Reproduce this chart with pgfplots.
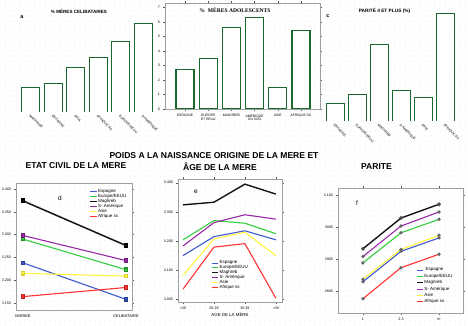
\documentclass[border=0pt]{standalone}
\usepackage{fontspec}
\setmainfont{Liberation Sans}
\newfontfamily\serifb{Liberation Serif}
\usepackage{pgfplots}
\pgfplotsset{compat=1.18}
\usetikzlibrary{patterns.meta}
\definecolor{cesp}{RGB}{60,90,205}
\definecolor{ceur}{RGB}{50,205,60}
\definecolor{cmag}{RGB}{20,20,20}
\definecolor{csam}{RGB}{150,40,165}
\definecolor{casi}{RGB}{255,245,60}
\definecolor{cafr}{RGB}{255,50,50}
\definecolor{bargreen}{RGB}{25,105,45}
\pgfplotsset{
  common/.style={scale only axis, anchor=south west,
    /pgf/number format/assume math mode=true,
    tick label style={font=\fontsize{3.6}{4}\selectfont},
    tick style={gray!70!black, line width=0.4bp},
    tick align=outside, major tick length=1.6bp},
  barax/.style={common, ybar, bar width=18bp, ymin=0,
    xtick={0,...,5}, ytick=\empty,
    axis line style={draw=none}, tick style={draw=none},
    xticklabel style={rotate=-45, anchor=north west, inner sep=0.6pt, font=\fontsize{3.4}{4}\selectfont}},
  greenbar/.style={fill=white, draw=bargreen, line width=0.9bp},
  lineax/.style={common, axis line style={gray!75, line width=0.9bp},
    legend cell align=left,
    legend image code/.code={\draw[##1, mark=none, line width=1bp] (0bp,0bp) -- (6.5bp,0bp);},
    legend style={draw=none, fill=none, font=\fontsize{4.5}{4.8}\selectfont,
      row sep=-1.4bp, nodes={inner sep=0.8bp}}},
}
\begin{document}
\begin{tikzpicture}
\path[use as bounding box] (0,0) rectangle (468bp,326bp);
\fill[pattern={Dots[distance=5bp, radius=0.3bp]}, pattern color=gray!50] (0,0) rectangle (468bp,326bp);

% ---------- a ----------
\begin{axis}[barax, at={(15bp,214bp)}, width=145bp, height=97bp,
  xmin=-0.71, xmax=5.76, ymax=97,
  xticklabels={MAGHREB, ESPAGNE, ASIA, AFRIQUE SS, EUROPE/EEUU, S-AMERIQUE}]
\addplot[greenbar] coordinates {(0,25) (1,29) (2,45) (3,55) (4,71) (5,89)};
\end{axis}
\node[font=\bfseries\fontsize{4.6}{5}\selectfont] at (79bp,315bp) {\% MÈRES CELIBATAIRES};
\node[font=\bfseries\fontsize{5.5}{6}\selectfont] at (22bp,309bp) {a};

% ---------- b ----------
\begin{axis}[common, at={(165bp,217bp)}, width=155bp, height=106bp,
  ybar, bar width=18bp,
  xmin=-0.86, xmax=5.82, ymin=0, ymax=7.3,
  axis line style={gray!75, line width=0.8bp},
  ytick={0,...,7}, xtick={0,...,5},
  xticklabel style={align=center, font=\fontsize{3.4}{3.8}\selectfont},
  xticklabels={ESPAGNE, {EUROPE\\ET EEUU}, MAGHREB, {AMÉRIQUE\\DU SUD}, ASIE, AFRIQUE SS}]
\addplot[greenbar, line width=1.1bp] coordinates {(0,2.7) (1,3.5) (2,5.6) (3,6.3) (4,1.45) (5,5.4)};
\end{axis}
\node[font=\serifb\bfseries\fontsize{5.6}{6}\selectfont] at (235bp,316bp) {\%\ \ MÈRES ADOLESCENTS};

% ---------- c ----------
\begin{axis}[barax, at={(322bp,205bp)}, width=140bp, height=116bp,
  xmin=-0.59, xmax=5.77, ymax=116,
  xticklabels={ESPAGNE, EUROPE/EEUU, MAGHREB, S-AMERIQUE, ASIE, AFRIQUE SS}]
\addplot[greenbar] coordinates {(0,18) (1,27) (2,77) (3,31) (4,24) (5,108)};
\end{axis}
\node[font=\bfseries\fontsize{4.8}{5}\selectfont] at (384.5bp,315bp) {PARITÉ 4 ET PLUS (\%)};
\node[font=\bfseries\fontsize{5.5}{6}\selectfont] at (328bp,310bp) {c};

% ---------- titles ----------
\node[font=\bfseries\fontsize{8.6}{9}\selectfont] at (214bp,170bp) {POIDS A LA NAISSANCE ORIGINE DE LA MERE ET};
\node[font=\bfseries\fontsize{8.6}{9}\selectfont] at (76bp,160bp) {ETAT CIVIL DE LA MERE};
\node[font=\bfseries\fontsize{8.6}{9}\selectfont] at (220bp,159.5bp) {ÂGE DE LA MERE};
\node[font=\bfseries\fontsize{8.6}{9}\selectfont] at (376.5bp,159.5bp) {PARITE};

% ---------- d ----------
\begin{axis}[lineax, at={(16bp,16bp)}, width=116bp, height=127bp,
  xmin=-0.068, xmax=1.058, ymin=3.1346, ymax=3.4132,
  xtick={0,1}, xticklabels={MARIEE, CELIBATAIRE},
  xticklabel style={font=\fontsize{4}{4.5}\selectfont},
  x tick style={draw=none},
  ytick={3.15,3.2,3.25,3.3,3.35,3.4},
  yticklabels={3.150,3.200,3.250,3.300,3.350,3.400},
  legend style={at={(0.61,0.975)}, anchor=north west},
  every axis plot/.append style={line width=1.1bp, mark=square*, mark size=1.7bp}]
\addplot[cesp, mark options={fill=cesp, draw=cesp!70!black}] coordinates {(0,3.238) (1,3.158)};
\addplot[ceur, mark options={fill=ceur, draw=ceur!70!black}] coordinates {(0,3.290) (1,3.223)};
\addplot[cmag, line width=1.5bp, mark options={fill=cmag, draw=black}] coordinates {(0,3.374) (1,3.276)};
\addplot[csam, mark options={fill=csam, draw=csam!70!black}] coordinates {(0,3.298) (1,3.243)};
\addplot[casi, mark options={fill=casi, draw=casi!85!black}] coordinates {(0,3.215) (1,3.209)};
\addplot[cafr, mark options={fill=cafr, draw=cafr!75!black}] coordinates {(0,3.164) (1,3.184)};
\legend{Espagne, Europe/EEUU, Maghreb, S- Amérique, Asie, Afrique ss}
\end{axis}
\node[font=\fontsize{6.5}{7}\selectfont] at (60bp,128bp) {d};

% ---------- e ----------
\begin{axis}[lineax, at={(178bp,24bp)}, width=104bp, height=123bp,
  xmin=-0.162, xmax=3.2, ymin=2.9907, ymax=3.4127,
  xtick={0,1,2,3}, xticklabels={<20, 20-29, 30-39, >39},
  ytick={3.0,3.1,3.2,3.3,3.4},
  yticklabels={3.000,3.100,3.200,3.300,3.400},
  xlabel={AGE DE LA MÈRE}, xlabel style={font=\fontsize{4.4}{5}\selectfont, yshift=3.5bp},
  legend style={at={(0.29,0.36)}, anchor=north west},
  every axis plot/.append style={line width=1.1bp, mark=none}]
\addplot[cesp] coordinates {(0,3.150) (1,3.215) (2,3.235) (3,3.204)};
\addplot[ceur] coordinates {(0,3.204) (1,3.270) (2,3.261) (3,3.225)};
\addplot[cmag, line width=1.4bp] coordinates {(0,3.324) (1,3.333) (2,3.395) (3,3.361)};
\addplot[csam] coordinates {(0,3.183) (1,3.263) (2,3.290) (3,3.275)};
\addplot[casi] coordinates {(0,3.082) (1,3.207) (2,3.230) (3,3.150)};
\addplot[cafr] coordinates {(0,3.035) (1,3.179) (2,3.191) (3,3.004)};
\legend{Espagne, Europe/EEUU, Maghreb, S- Amérique, Asie, Afrique ss}
\end{axis}
\node[font=\fontsize{6.5}{7}\selectfont] at (196bp,134bp) {e};

% ---------- f ----------
\begin{axis}[lineax, at={(338bp,13bp)}, width=125bp, height=125bp,
  xmin=-0.655, xmax=2.63, ymin=2731.5, ymax=3121.8,
  xtick={0,1,2}, xticklabels={1, 2-3, 4+},
  ytick={2800,2900,3000,3100},
  yticklabels={2800,2900,3000,3.100},
  legend style={at={(0.6,0.385)}, anchor=north west, row sep=0bp},
  every axis plot/.append style={line width=1.1bp, mark=*, mark size=1.1bp}]
\addplot[cesp, mark options={fill=cesp!40, draw=black!60}] coordinates {(0,2829) (1,2924) (2,2966)};
\addplot[ceur, mark options={fill=ceur!40, draw=black!60}] coordinates {(0,2888) (1,2982) (2,3024)};
\addplot[cmag, line width=1.4bp, mark options={fill=gray, draw=black!70}] coordinates {(0,2932) (1,3028) (2,3071)};
\addplot[csam, mark options={fill=csam!40, draw=black!60}] coordinates {(0,2908) (1,3003) (2,3047)};
\addplot[casi, mark options={fill=casi!40, draw=black!60}] coordinates {(0,2837) (1,2930) (2,2974)};
\addplot[cafr, mark options={fill=cafr!40, draw=black!60}] coordinates {(0,2776) (1,2873) (2,2915)};
\legend{\ Espagne, Europe/EEUU, Maghreb, S- Amérique, Asie, Afrique ss}
\end{axis}
\node[font=\fontsize{6.5}{7}\selectfont] at (357bp,123bp) {f};
\end{tikzpicture}
\end{document}
